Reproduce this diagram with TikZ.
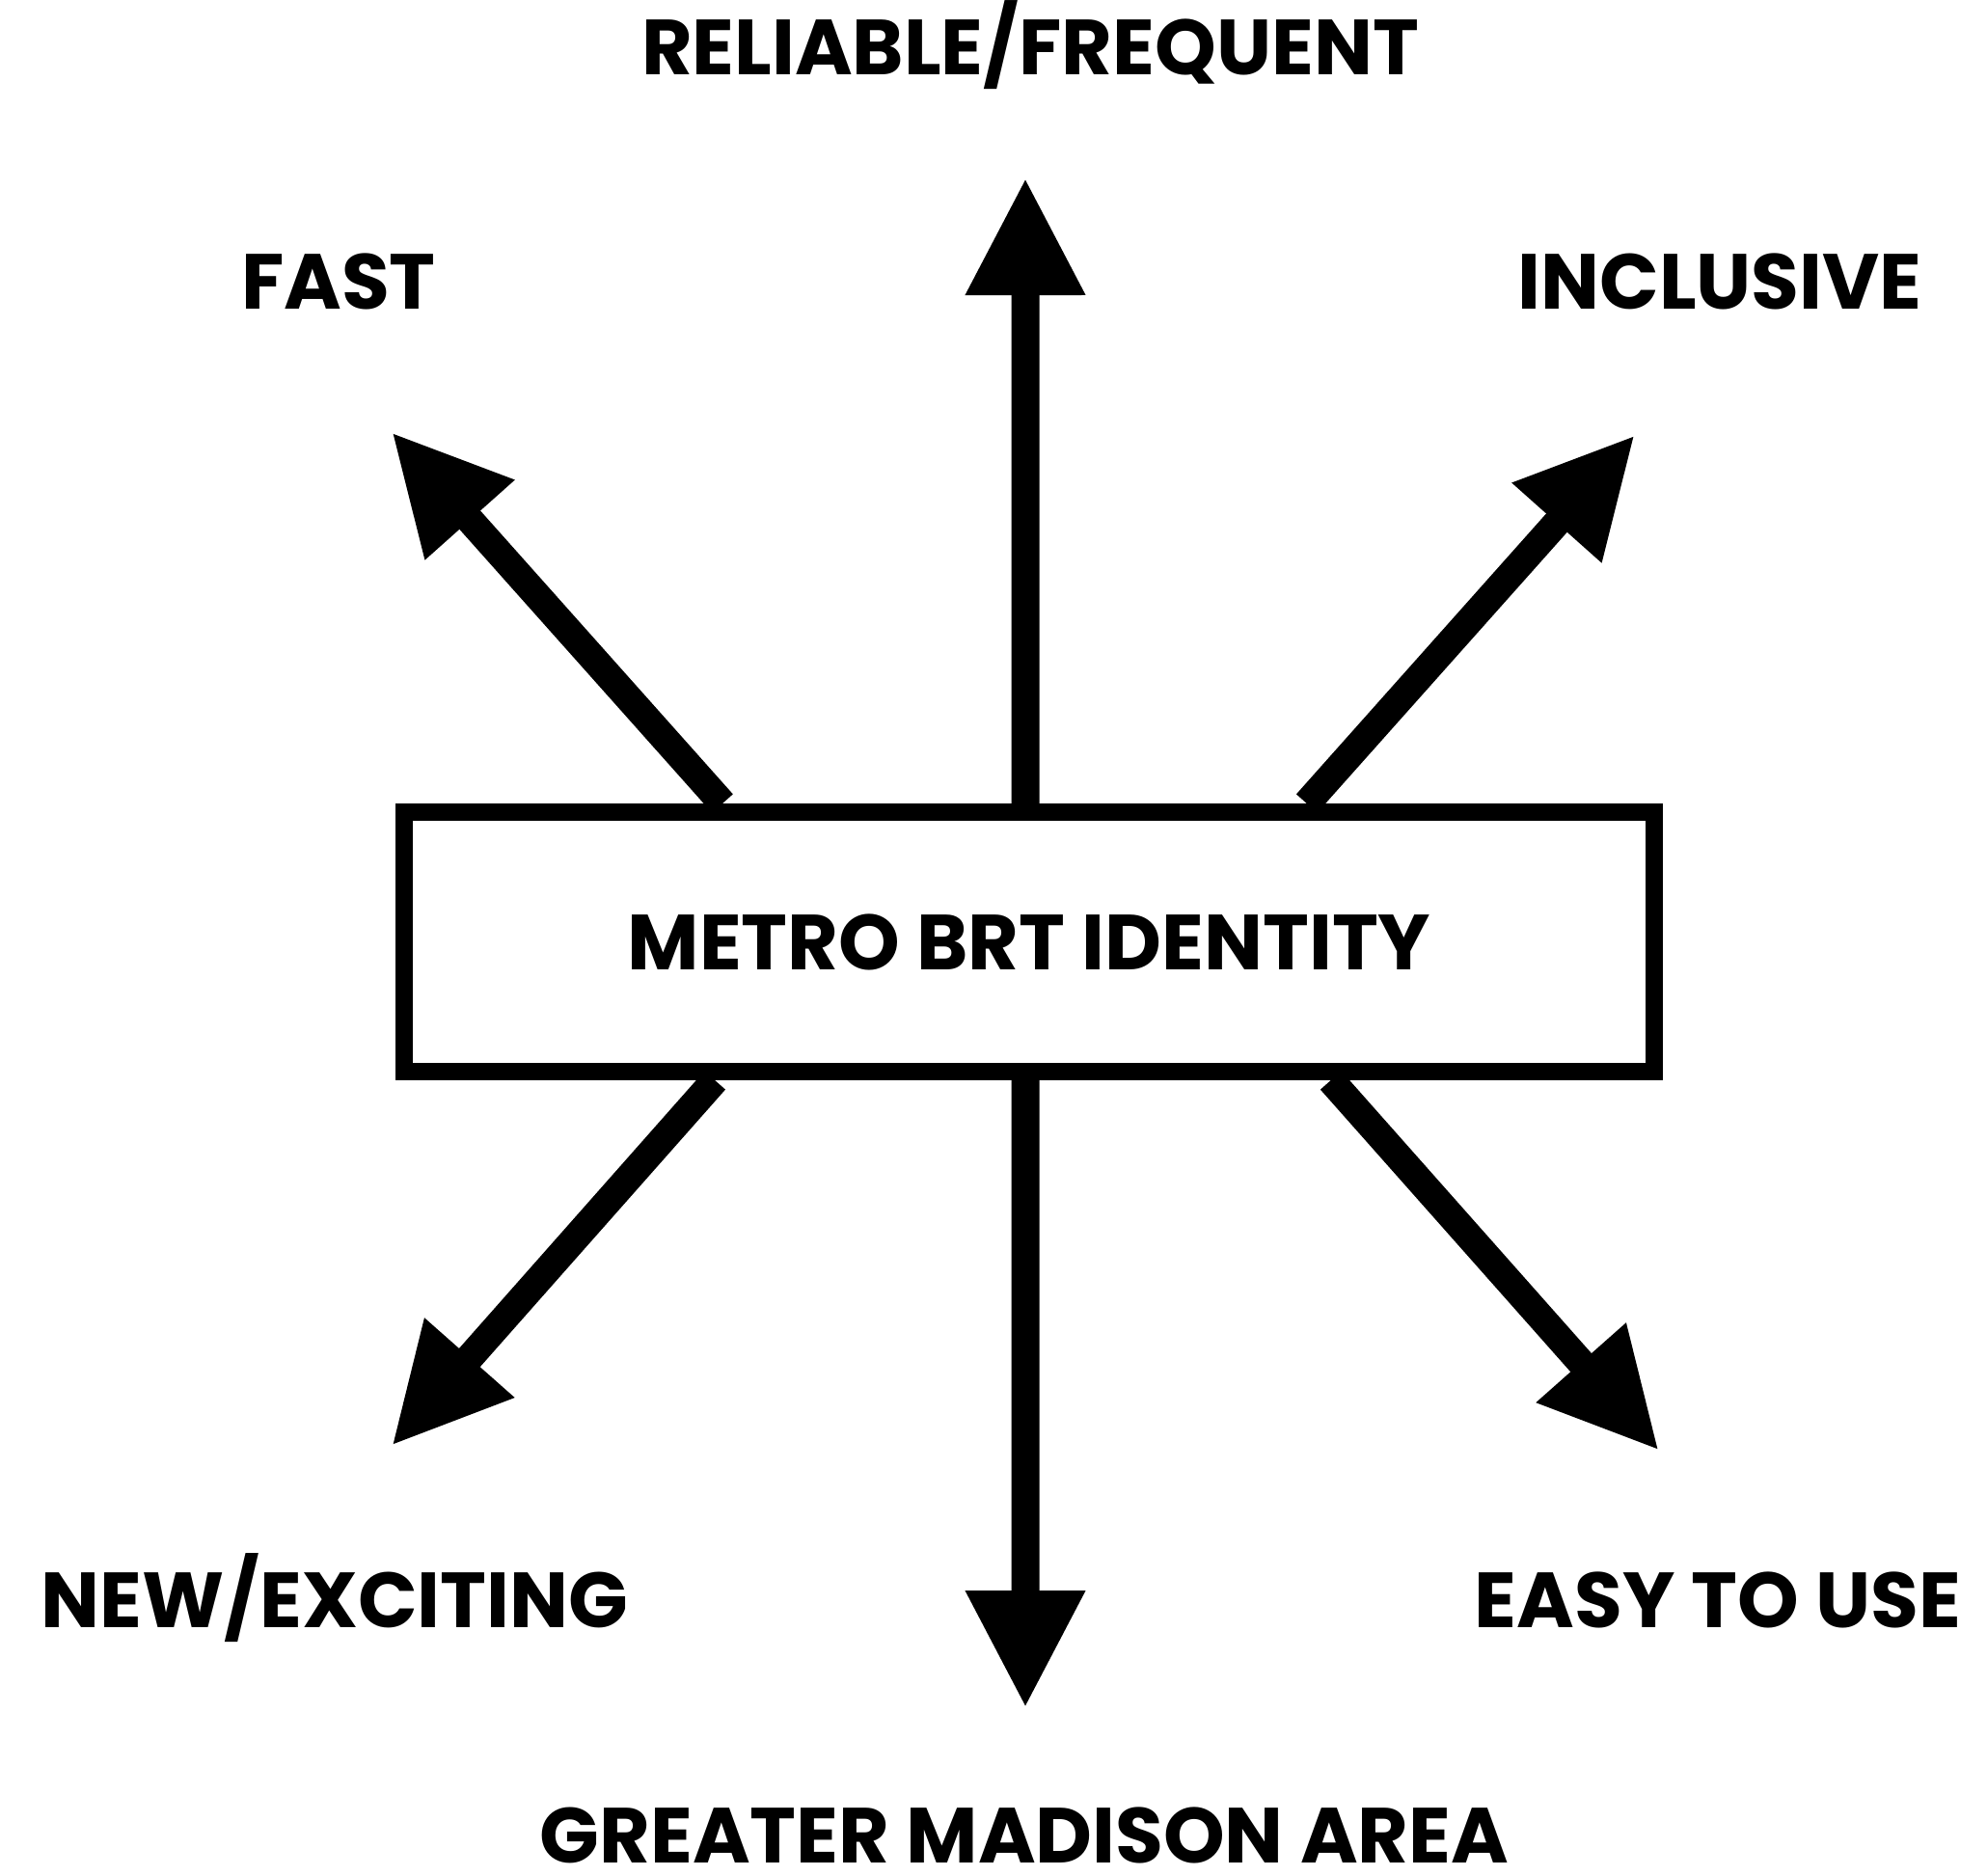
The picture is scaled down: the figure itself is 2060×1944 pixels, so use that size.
\documentclass[tikz,border=0pt]{standalone}
\usepackage{fontspec}
\setmainfont{Poppins}
\usetikzlibrary{arrows.meta,backgrounds,calc}

\begin{document}
\begin{tikzpicture}[x=0.5pt,y=-0.5pt,
  every node/.style={font=\bfseries\fontsize{40.5}{41}\selectfont},
  aim/.style={anchor=base, inner sep=0pt},
  goal/.style={line width=14.5pt,-{Triangle[length=61pt,width=58pt]}}]

  \useasboundingbox (0,0) rectangle (2060,1944);

  \node[draw, line width=9pt, fill=white, inner sep=0pt,
        minimum width=648pt, minimum height=134.5pt] (brt) at (1067,976.5) {METRO BRT IDENTITY};

  % arrow tips
  \coordinate (upTip)   at (1063,184);
  \coordinate (downTip) at (1063,1771);
  \coordinate (ulTip)   at (406,448);
  \coordinate (urTip)   at (1695,451);
  \coordinate (llTip)   at (406,1499);
  \coordinate (lrTip)   at (1720,1504);

  % labels
  \node[aim] (reliable)  at (1068,77)   {RELIABLE/FREQUENT};
  \node[aim] (fast)      at (351,320)   {FAST};
  \node[aim] (inclusive) at (1783,320)  {INCLUSIVE};
  \node[aim] (newex)     at (347,1687)  {NEW/EXCITING};
  \node[aim] (easy)      at (1781,1687) {EASY TO USE};
  \node[aim] (madison)   at (1062,1931) {GREATER MADISON AREA};

  \begin{scope}[on background layer]
  \path [goal]
        ($(brt.north west)!0.497!(brt.north east)$) edge (upTip)
        ($(brt.south west)!0.497!(brt.south east)$) edge (downTip)
        ($(brt.north west)!0.258!(brt.north east)$) edge (ulTip)
        ($(brt.north west)!0.719!(brt.north east)$) edge (urTip)
        ($(brt.south west)!0.252!(brt.south east)$) edge (llTip)
        ($(brt.south west)!0.738!(brt.south east)$) edge (lrTip);
  \end{scope}
\end{tikzpicture}
\end{document}
